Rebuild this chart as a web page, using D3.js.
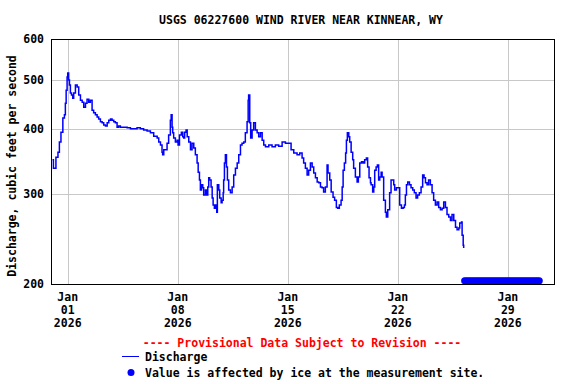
<!DOCTYPE html>
<html>
<head>
<meta charset="utf-8">
<script src="https://cdn.jsdelivr.net/npm/d3@7"></script>
<style>
	body { margin: 0; background: #fff; }
	text { font-family: "DejaVu Sans Mono", monospace; font-weight: bold; }
</style>
</head>
<body>
<script>

// days after 2026-01-01 00:00 (UTC) and discharge in cfs
var dischargeDays = [
	-0.97, -0.91, -0.75, -0.62, -0.53, -0.43, -0.31, -0.21, -0.15, -0.10, -0.04, 0.00,
	0.06, 0.11, 0.17, 0.24, 0.32, 0.38, 0.49, 0.60, 0.70, 0.81, 0.92, 1.02, 1.13, 1.23,
	1.34, 1.44, 1.55, 1.65, 1.76, 1.87, 1.97, 2.08, 2.19, 2.29, 2.40, 2.51, 2.61, 2.72,
	2.82, 2.93, 3.03, 3.14, 3.24, 3.35, 3.56, 3.78, 3.99, 4.20, 4.41, 4.62, 4.83, 5.05,
	5.26, 5.47, 5.69, 5.79, 5.90, 6.00, 6.04, 6.11, 6.22, 6.32, 6.42, 6.53, 6.58, 6.64,
	6.68, 6.74, 6.85, 6.96, 7.02, 7.11, 7.23, 7.32, 7.38, 7.44, 7.53, 7.60, 7.70, 7.81,
	7.91, 8.02, 8.12, 8.23, 8.30, 8.38, 8.44, 8.51, 8.59, 8.65, 8.76, 8.82, 8.91, 8.97,
	9.03, 9.12, 9.19, 9.25, 9.33, 9.40, 9.48, 9.52, 9.61, 9.67, 9.76, 9.82, 9.89, 9.92,
	9.97, 10.03, 10.10, 10.16, 10.24, 10.35, 10.46, 10.56, 10.67, 10.78, 10.88, 10.99,
	11.09, 11.20, 11.30, 11.41, 11.48, 11.51, 11.58, 11.64, 11.73, 11.83, 11.94, 12.05,
	12.15, 12.26, 12.37, 12.47, 12.58, 12.79, 13.00, 13.21, 13.42, 13.64, 13.85, 14.06,
	14.21, 14.38, 14.59, 14.76, 14.91, 15.01, 15.12, 15.23, 15.33, 15.44, 15.55, 15.65,
	15.76, 15.87, 15.97, 16.08, 16.18, 16.28, 16.39, 16.50, 16.56, 16.67, 16.76, 16.88,
	16.98, 17.09, 17.18, 17.28, 17.39, 17.46, 17.52, 17.60, 17.68, 17.73, 17.79, 17.88,
	17.94, 18.03, 18.13, 18.19, 18.30, 18.41, 18.49, 18.58, 18.69, 18.79, 18.89, 19.00,
	19.08, 19.17, 19.26, 19.30, 19.40, 19.47, 19.53, 19.62, 19.70, 19.78, 19.85, 19.94,
	20.00, 20.10, 20.21, 20.27, 20.36, 20.42, 20.48, 20.57, 20.67, 20.74, 20.80, 20.91,
	21.02, 21.12, 21.23, 21.34, 21.42, 21.48, 21.55, 21.63, 21.74, 21.84, 21.95, 22.05,
	22.16, 22.26, 22.37, 22.48, 22.58, 22.67, 22.76, 22.86, 22.96, 23.07, 23.18, 23.28,
	23.39, 23.50, 23.60, 23.71, 23.82, 23.92, 24.03, 24.13, 24.24, 24.35, 24.45, 24.56,
	24.67, 24.77, 24.88, 24.94, 25.05, 25.09, 25.16, 25.19
];
var dischargeCfs = [
	349, 336, 353, 361, 378, 395, 421, 427, 450, 477, 506, 515,
	499, 488, 471, 467, 460, 471, 488, 484, 467, 456, 452, 442, 450, 458,
	452, 456, 436, 431, 427, 423, 419, 414, 412, 408, 406, 412, 417, 419,
	417, 414, 412, 404, 406, 404, 404, 403, 401, 401, 403, 401, 399, 397,
	394, 388, 385, 378, 373, 361, 357, 365, 365, 376, 390, 417, 427, 404,
	394, 385, 378, 381, 373, 390, 395, 387, 385, 395, 399, 387, 378, 365,
	376, 368, 357, 344, 330, 319, 305, 312, 308, 298, 305, 298, 309, 322,
	319, 309, 294, 285, 281, 285, 276, 312, 305, 294, 288, 291, 301, 319,
	344, 357, 338, 319, 305, 301, 309, 326, 336, 344, 357, 373,
	376, 378, 394, 414, 456, 467, 412, 385, 399, 412, 399, 394,
	387, 394, 381, 373, 370, 373, 370, 373, 371, 378, 376, 376,
	365, 360, 357, 360, 352, 344, 336, 326, 333, 344, 338, 329,
	322, 316, 315, 309, 308, 302, 309, 341, 329, 319, 302, 295,
	291, 282, 281, 285, 291, 309, 333, 344, 360, 381, 394, 387,
	378, 361, 349, 336, 323, 316, 323, 344, 346, 344, 349, 352,
	338, 322, 315, 312, 302, 309, 333, 338, 341, 319, 323, 330,
	323, 291, 276, 270, 279, 279, 301, 319, 319, 312, 305, 308,
	308, 285, 281, 282, 285, 298, 312, 316, 312, 308, 305, 301,
	294, 298, 301, 309, 326, 322, 315, 312, 319, 312, 301, 291,
	285, 289, 282, 279, 281, 289, 282, 273, 270, 266, 273, 266,
	258, 255, 257, 263, 264, 249, 238, 235
];

// ice-affected values (every 3 h), marked along the bottom of the plot
var iceDays = [
	25.250, 25.375, 25.500, 25.625, 25.750, 25.875, 26.000, 26.125, 26.250, 26.375,
	26.500, 26.625, 26.750, 26.875, 27.000, 27.125, 27.250, 27.375, 27.500, 27.625,
	27.750, 27.875, 28.000, 28.125, 28.250, 28.375, 28.500, 28.625, 28.750, 28.875,
	29.000, 29.125, 29.250, 29.375, 29.500, 29.625, 29.750, 29.875, 30.000
];
var iceMarkerCfs = 203;

var yTicks = [200, 300, 400, 500, 600];
var yGrid = [300, 400, 500];
var xTickDays = ["2026-01-01", "2026-01-08", "2026-01-15", "2026-01-22", "2026-01-29"];
var xTickLabels = [["Jan", "01", "2026"], ["Jan", "08", "2026"], ["Jan", "15", "2026"], ["Jan", "22", "2026"], ["Jan", "29", "2026"]];

var width = 576;
var height = 384;
// plot box (note: "top" is a reserved global in browsers)
var plotLeft = 52, plotRight = 555, plotTop = 39, plotBottom = 284;

var base = Date.UTC(2026, 0, 1);
function dayToDate(d){ return new Date(base + d * 86400000); }

var svg = d3.select("body")
			.append("svg")
			.attr("width", width)
			.attr("height", height);

var x = d3.scaleUtc()
		.domain([new Date(Date.UTC(2025, 11, 31)), new Date(Date.UTC(2026, 1, 1))])
		.range([plotLeft, plotRight]);

var y = d3.scaleLog()
		.domain([200, 600])
		.range([plotBottom, plotTop]);

// grid
svg.selectAll("line.hgrid")
	.data(yGrid)
	.enter()
		.append("line")
		.attr("x1", plotLeft)
		.attr("x2", plotRight)
		.attr("y1", function(d){ return Math.round(y(d)) + 0.5; })
		.attr("y2", function(d){ return Math.round(y(d)) + 0.5; })
		.attr("stroke", "#c8c8c8")
		.attr("stroke-width", 1);

svg.selectAll("line.vgrid")
	.data(xTickDays)
	.enter()
		.append("line")
		.attr("x1", function(d){ return Math.round(x(new Date(d))) + 0.5; })
		.attr("x2", function(d){ return Math.round(x(new Date(d))) + 0.5; })
		.attr("y1", plotTop)
		.attr("y2", plotBottom)
		.attr("stroke", "#c8c8c8")
		.attr("stroke-width", 1);

// discharge line
var discharge = dischargeDays.map(function(d, i){ return [dayToDate(d), dischargeCfs[i]]; });

var line = d3.line()
			.x(function(d){ return x(d[0]); })
			.y(function(d){ return y(d[1]); })
			.curve(d3.curveStepAfter);

svg.append("path")
	.datum(discharge)
	.attr("d", line)
	.attr("fill", "none")
	.attr("stroke", "#0000ff")
	.attr("stroke-width", 1.5);

// ice markers
svg.selectAll("circle.ice")
	.data(iceDays)
	.enter()
		.append("circle")
		.attr("cx", function(d){ return x(dayToDate(d)); })
		.attr("cy", y(iceMarkerCfs))
		.attr("r", 3.5)
		.attr("fill", "#0000ff");

// frame
svg.append("rect")
	.attr("x", plotLeft - 0.5)
	.attr("y", plotTop + 0.5)
	.attr("width", plotRight - plotLeft)
	.attr("height", plotBottom - plotTop)
	.attr("fill", "none")
	.attr("stroke", "#000")
	.attr("stroke-width", 1);

// y tick labels
svg.selectAll("text.ytick")
	.data(yTicks)
	.enter()
		.append("text")
		.attr("x", 44)
		.attr("y", function(d){ return y(d); })
		.attr("dy", "0.35em")
		.attr("text-anchor", "end")
		.attr("font-size", "11.5px")
		.text(function(d){ return d; });

// x tick labels
var xl = svg.selectAll("text.xtick")
			.data(xTickDays)
			.enter()
				.append("text")
				.attr("text-anchor", "middle")
				.attr("font-size", "11.5px");

xl.each(function(d, i){
	var t = d3.select(this);
	var cx = x(new Date(d));
	xTickLabels[i].forEach(function(s, j){
		t.append("tspan")
			.attr("x", cx)
			.attr("y", 301 + j * 13)
			.text(s);
	});
});

// titles
svg.append("text")
	.attr("x", 301)
	.attr("y", 24)
	.attr("text-anchor", "middle")
	.attr("font-size", "11.5px")
	.text("USGS 06227600 WIND RIVER NEAR KINNEAR, WY");

svg.append("text")
	.attr("transform", "translate(16, 166) rotate(-90)")
	.attr("text-anchor", "middle")
	.attr("font-size", "11.5px")
	.text("Discharge, cubic feet per second");

// legend
svg.append("text")
	.attr("x", 302)
	.attr("y", 346.5)
	.attr("text-anchor", "middle")
	.attr("font-size", "11.5px")
	.attr("fill", "#ff0000")
	.text("---- Provisional Data Subject to Revision ----");

svg.append("line")
	.attr("x1", 122)
	.attr("x2", 139)
	.attr("y1", 356.5)
	.attr("y2", 356.5)
	.attr("stroke", "#0000ff")
	.attr("stroke-width", 1);

svg.append("text")
	.attr("x", 145)
	.attr("y", 360.5)
	.attr("font-size", "11.5px")
	.text("Discharge");

svg.append("circle")
	.attr("cx", 131)
	.attr("cy", 372.5)
	.attr("r", 3.5)
	.attr("fill", "#0000ff");

svg.append("text")
	.attr("x", 145)
	.attr("y", 376.5)
	.attr("font-size", "11.5px")
	.text("Value is affected by ice at the measurement site.");

</script>
</body>
</html>
